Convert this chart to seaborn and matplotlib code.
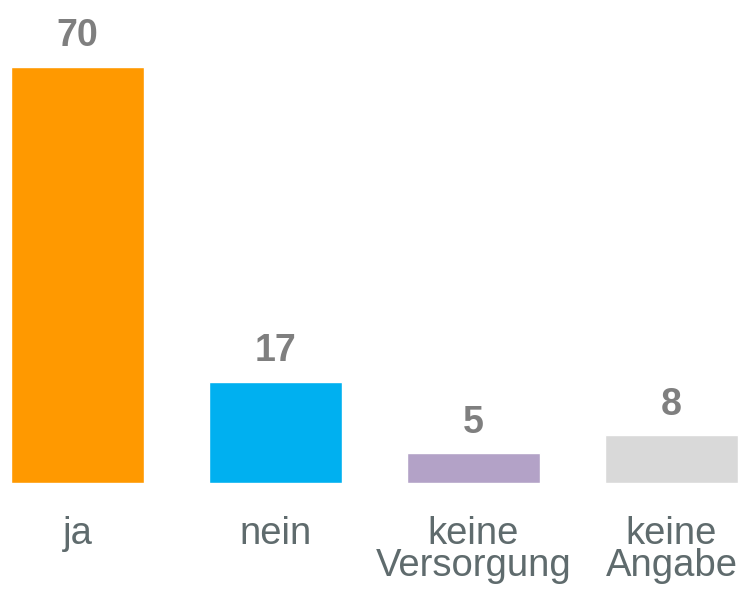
import matplotlib
matplotlib.use("Agg")
import matplotlib.pyplot as plt
import seaborn as sns
import pandas as pd

categories = ["ja", "nein", "keine\nVersorgung", "keine\nAngabe"]
values = [70, 17, 5, 8]
colors = ["#FF9900", "#00B0F0", "#B3A2C7", "#D9D9D9"]

sns.set_theme(style="white")
plt.rcParams['font.family'] = ['Liberation Sans', 'DejaVu Sans']

W, H = 740, 589
fig = plt.figure(figsize=(W / 100, H / 100), dpi=100)
bottom_px, top_px = 483, 20
ax = fig.add_axes([0, (H - bottom_px) / H, 1, (bottom_px - top_px) / H])

df = pd.DataFrame({"cat": categories, "val": values})
sns.barplot(data=df, x="cat", y="val", hue="cat", palette=colors, legend=False,
            width=0.672, saturation=1, ax=ax)

unit = 198.0
ax.set_xlim(-77.5 / unit, (W - 77.5) / unit)
ax.set_ylim(0, (bottom_px - top_px) / 5.943)

for i, v in enumerate(values):
    ax.annotate(str(v), (i, v), xytext=(0, 9), textcoords="offset points",
                ha="center", va="bottom", fontsize=27, fontweight="bold", color="#7F7F7F")

ax.set_xlabel("")
ax.set_ylabel("")
ax.set_yticks([])
ax.tick_params(axis="x", length=0, pad=23.5, labelsize=27.5, labelcolor="#5F6B6D")
for lbl in ax.get_xticklabels():
    lbl.set_linespacing(0.88)
for s in ax.spines.values():
    s.set_visible(False)

fig.savefig("out.png", dpi=100)
